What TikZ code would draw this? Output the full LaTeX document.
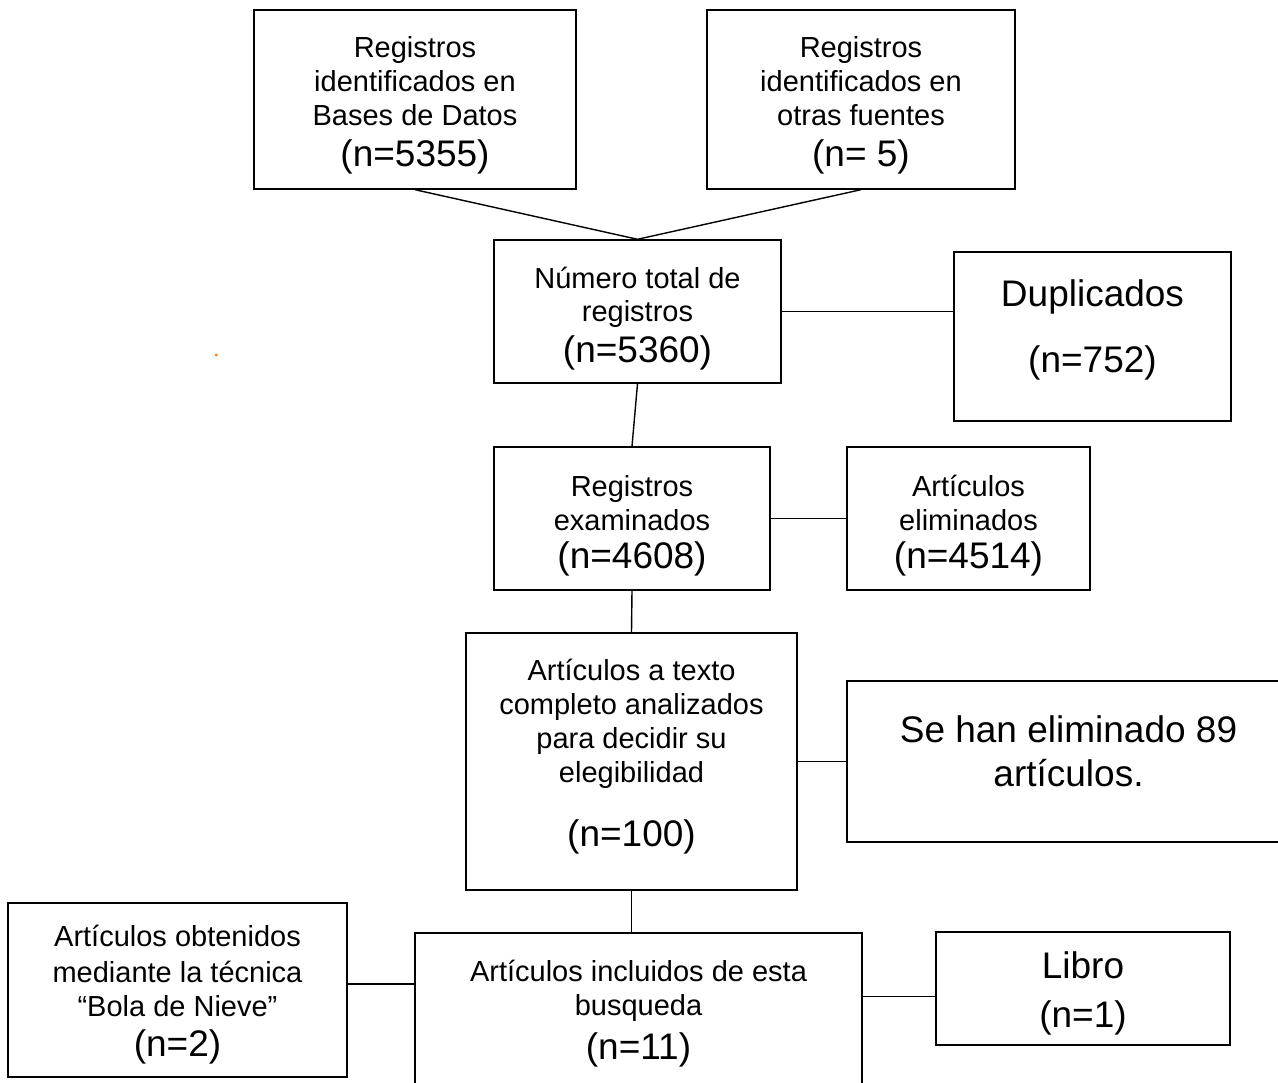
\documentclass[tikz,border=0pt]{standalone}
\usepackage{fontspec}
\setmainfont{Liberation Sans}
\newcommand{\bignum}[1]{{\fontsize{37}{44}\selectfont #1}}
\newcommand{\hs}[1]{\rule{0pt}{#1}}
\newcommand{\ds}[1]{\rule[-#1]{0pt}{#1}}
\begin{document}
\begin{tikzpicture}[x=1pt,y=-1pt,line width=1.4pt,
	box/.style={draw,rectangle,inner sep=0pt,align=center,font=\fontsize{29}{34}\selectfont}]

	\useasboundingbox (0,0) rectangle (1278,1083);
	
	\node[box, minimum width=322pt, minimum height=179pt] (BasesDatos) at (415,99.5) {\hs{37pt}Registros\\identificados en\\Bases de Datos\\[7pt]\bignum{(n=5355)}\ds{12pt}};
	\node[box, minimum width=308pt, minimum height=179pt] (OtrasFuentes) at (861,99.5) {\hs{37pt}Registros\\identificados en\\otras fuentes\\[7pt]\bignum{(n= 5)}\ds{12pt}};
	\node[box, minimum width=287pt, minimum height=143pt] (Total) at (637.5,311.5) {\hs{41pt}Número total de\\[-2pt]registros\\[8pt]\bignum{(n=5360)}\ds{12pt}};
	\node[box, minimum width=277pt, minimum height=169pt, font=\fontsize{37}{44}\selectfont] (Duplicados) at (1092.5,336.5) {\hs{29pt}Duplicados\\[22pt](n=752)\ds{22pt}};
	\node[box, minimum width=276pt, minimum height=143pt] (Examinados) at (632,518.5) {\hs{39pt}Registros\\examinados\\[4pt]\bignum{(n=4608)}\ds{12pt}};
	\node[box, minimum width=243pt, minimum height=143pt] (Eliminados) at (968.5,518.5) {\hs{39pt}Artículos\\eliminados\\[4pt]\bignum{(n=4514)}\ds{12pt}};
	\node[box, minimum width=331pt, minimum height=257pt] (TextoCompleto) at (631.5,761.5) {\hs{30pt}Artículos a texto\\completo analizados\\para decidir su\\elegibilidad\\[30pt]\bignum{(n=100)}\ds{26pt}};
	\node[box, minimum width=443pt, minimum height=161pt, font=\fontsize{37}{44}\selectfont] (Excluidos) at (1068.5,761.5) {\hs{30pt}Se han eliminado 89\\artículos.\ds{25pt}};
	\node[box, minimum width=447pt, minimum height=157pt] (Incluidos) at (638.5,1011.5) {\hs{29pt}Artículos incluidos de esta\\busqueda\\[10pt]\bignum{(n=11)}\ds{12pt}};
	\node[box, minimum width=339pt, minimum height=174pt] (BolaNieve) at (177.5,990) {\hs{34pt}Artículos obtenidos\\[2pt]mediante la técnica\\“Bola de Nieve”\\[6pt]\bignum{(n=2)}\ds{12pt}};
	\node[box, minimum width=294pt, minimum height=113pt, font=\fontsize{37}{44}\selectfont] (Libro) at (1083,988.5) {\hs{40pt}Libro\\[5pt](n=1)\ds{12pt}};
	
	\draw (BasesDatos.south) -- (Total.north) -- (OtrasFuentes.south);
	\draw (Total.east) -- (Total.east -| Duplicados.west);
	\draw (Total.south) -- (Examinados.north);
	\draw (Examinados.east) -- (Eliminados.west);
	\draw (Examinados.south) -- (TextoCompleto.north);
	\draw (TextoCompleto.east) -- (Excluidos.west);
	\draw (TextoCompleto.south) -- (TextoCompleto.south |- Incluidos.north);
	\draw ([yshift=6pt]BolaNieve.east) -- ([yshift=6pt]BolaNieve.east -| Incluidos.west);
	\draw ([yshift=-8pt]Libro.west -| Incluidos.east) -- ([yshift=-8pt]Libro.west);
	
	%stray mark left of the total box
	\fill[orange!85!red] (216,355) circle (1.5pt);
	
\end{tikzpicture}
\end{document}
